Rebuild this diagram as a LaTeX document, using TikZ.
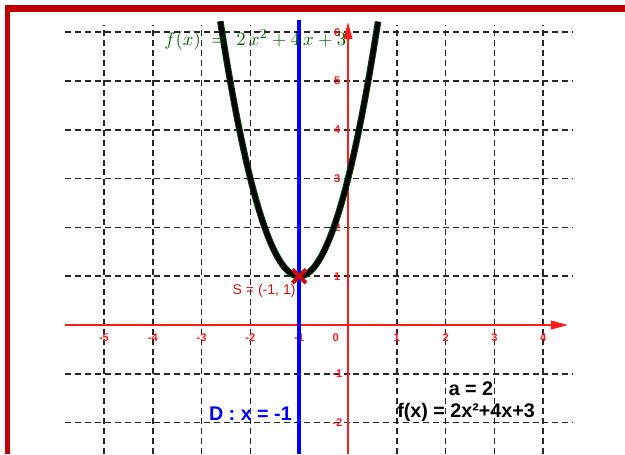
\documentclass[tikz,border=0pt]{standalone}
\usepackage{fontspec}
\setsansfont{Liberation Sans}
\definecolor{GGred}{HTML}{FF1A1A}
\definecolor{GGframe}{HTML}{C00000}
\definecolor{GGgreen}{HTML}{006400}
\definecolor{GGblue}{HTML}{0000FF}
\definecolor{GGcross}{HTML}{CC1010}
\usetikzlibrary{arrows.meta}

\begin{document}
\begin{tikzpicture}[>={Triangle[length=10pt,width=5pt]},
  gridline/.style={black!85,line width=0.95pt,dash pattern=on 3.5pt off 2.3pt},
  axisline/.style={GGred,line width=1.2pt},
  ticklabel/.style={text=GGred,font=\sffamily\bfseries\fontsize{6.5}{7}\selectfont,inner sep=0pt},
  infotext/.style={font=\sffamily\bfseries\fontsize{11.5}{13}\selectfont,inner sep=0pt}]
  \useasboundingbox (-7.131,-2.643) rectangle (5.676,6.660);
  % frame
  \fill[GGframe] (-7.03,6.414) rectangle (5.676,6.557);
  \fill[GGframe] (-7.03,-2.643) rectangle (-6.926,6.557);
  % grid
  \foreach \y in {-2,-1,1,2,3,4,5,6}
    \draw[gridline] (-5.8,\y) -- (4.6,\y);
  \foreach \x in {-5,-4,-3,-2,1,2,3,4}
    \draw[gridline] (\x,-2.643) -- (\x,6.15);
  % axes
  \coordinate (xstart) at (-5.8,0);
  \coordinate (xend) at (4.51,0);
  \coordinate (ystart) at (0,-2.643);
  \coordinate (yend) at (0,6.21);
  \draw[axisline,->] (xstart) -- (xend);
  \draw[axisline,->] (ystart) -- (yend);
  \foreach \x [count=\i] in {-5,-4,-3,-2,-1,1,2,3,4}
    \node[ticklabel] (tx\i) at (\x,-0.25) {\x};
  \node[ticklabel] (t0) at (-0.25,-0.25) {0};
  \foreach \y [count=\i] in {-2,-1,1,2,3,4,5,6}
    \node[ticklabel] (ty\i) at (-0.22,\y) {\y};
  % axis of symmetry
  \coordinate (dbot) at (-1,-2.643);
  \coordinate (dtop) at (-1,6.25);
  \draw[GGblue,line width=2.3pt] (dbot) -- (dtop);
  % parabola
  \draw[GGgreen!70!black,line width=3.8pt,domain=-2.616:0.616,samples=90] plot (\x,{2*\x*\x+4*\x+3});
  \draw[black,line width=2.6pt,domain=-2.616:0.616,samples=90] plot (\x,{2*\x*\x+4*\x+3});
  \node[text=GGgreen,inner sep=0pt,font=\fontsize{10.9}{12}\selectfont] (flabel) at (-1.9,5.85) {$f(x)\;=\;2\,x^2+4\,x+3$};
  % vertex
  \coordinate (S) at (-1,1);
  \draw[GGcross,line width=2.4pt] ([shift={(-0.14,-0.14)}]S) -- ([shift={(0.14,0.14)}]S);
  \draw[GGcross,line width=2.4pt] ([shift={(-0.14,0.14)}]S) -- ([shift={(0.14,-0.14)}]S);
  \node[text=GGcross,font=\sffamily\fontsize{8.2}{9}\selectfont,inner sep=0pt] (slabel) at (-1.72,0.70) {S = (-1, 1)};
  % info texts
  \node[infotext,text=GGblue] (dlabel) at (-2.0,-1.81) {D : x = -1};
  \node[infotext] (alabel) at (2.52,-1.31) {a = 2};
  \node[infotext] (flabel2) at (2.42,-1.79) {f(x) = 2x²+4x+3};
\end{tikzpicture}
\end{document}
